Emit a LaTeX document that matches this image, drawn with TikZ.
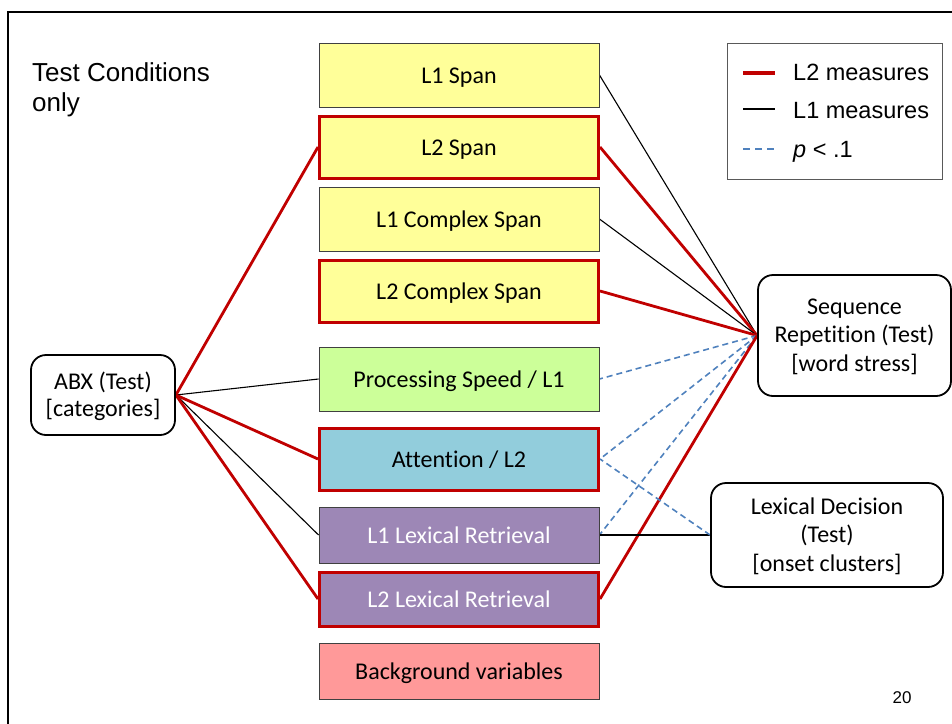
\documentclass[tikz,border=0pt]{standalone}
\usepackage{fontspec}
\setmainfont[Ligatures=NoCommon]{Carlito}
\newfontfamily\arialf{Liberation Sans}
\usetikzlibrary{backgrounds}

\definecolor{spanyellow}{HTML}{FFFF99}
\definecolor{speedgreen}{HTML}{CCFF99}
\definecolor{attnblue}{HTML}{92CDDC}
\definecolor{lexpurple}{HTML}{9D87B6}
\definecolor{bgpink}{HTML}{FF9999}
\definecolor{l2red}{HTML}{C00000}
\definecolor{trendblue}{HTML}{4F81BD}
\definecolor{boxedge}{HTML}{404040}
\definecolor{legendgray}{HTML}{595959}

% struts fixing the height of a first line and the depth of a last line
\newcommand\firstline[1]{\rule{0pt}{#1}}
\newcommand\lastline{\rule[-7pt]{0pt}{7pt}}

\begin{document}
\begin{tikzpicture}[x=1pt,y=-1pt,
  measure/.style={draw=boxedge, line width=0.9pt, minimum width=280pt,
    minimum height=64pt, inner sep=0pt, text height=21pt, text depth=5pt,
    font=\fontsize{24}{28}\selectfont},
  l2box/.style={draw=l2red, line width=3pt, minimum width=279pt, minimum height=62pt},
  lexbox/.style={minimum height=56pt},
  testbox/.style={draw=black, line width=1.8pt, rounded corners=15pt, align=center,
    inner sep=0pt, font=\fontsize{24}{28.5}\selectfont},
  l2link/.style={draw=l2red, line width=2.8pt},
  l1link/.style={draw=black, line width=1.1pt},
  trend/.style={draw=trendblue, line width=1.6pt, dash pattern=on 6pt off 4pt},
  legendtext/.style={anchor=west, inner sep=0pt, font=\arialf\fontsize{23.5}{28}\selectfont},
]
\useasboundingbox (0,0) rectangle (952,723);

% slide frame
\draw[line width=2.3pt] (960,12) -- (8,12) -- (8,730);

% title
\node[anchor=north west, align=left, inner sep=0pt,
  font=\arialf\fontsize{26}{30}\selectfont] (title) at (32,62) {Test Conditions\\only};

% column of measures
\node[measure, fill=spanyellow] (l1span) at (459,75) {L1 Span};
\node[measure, l2box, fill=spanyellow] (l2span) at (459,147) {L2 Span};
\node[measure, fill=spanyellow] (l1cspan) at (459,219) {L1 Complex Span};
\node[measure, l2box, fill=spanyellow] (l2cspan) at (459,291) {L2 Complex Span};
\node[measure, fill=speedgreen] (speed) at (459,379) {Processing Speed / L1};
\node[measure, l2box, fill=attnblue] (attn) at (459,459) {Attention / L2};
\node[measure, lexbox, fill=lexpurple, text=white] (l1lex) at (459,535) {L1 Lexical Retrieval};
\node[measure, l2box, lexbox, minimum height=54pt, fill=lexpurple, text=white] (l2lex) at (459,599) {L2 Lexical Retrieval};
\node[measure, lexbox, fill=bgpink] (bg) at (459,671) {Background variables};

% test tasks
\node[testbox, minimum width=144pt, minimum height=80pt, font=\fontsize{24}{27.5}\selectfont]
  (abx) at (103,395) {\firstline{23pt}ABX (Test)\\{}[categories]\lastline};
\node[testbox, minimum width=193pt, minimum height=121pt]
  (seq) at (854.5,335.5) {\firstline{21pt}Sequence\\Repetition (Test)\\{}[word stress]\lastline};
\node[testbox, minimum width=232pt, minimum height=104pt]
  (lex) at (827,535) {\firstline{22pt}Lexical Decision\\(Test)\\{}[onset clusters]\lastline};

% legend
\node[draw=legendgray, line width=1pt, minimum width=215pt, minimum height=136pt,
  inner sep=0pt] (legend) at (834.5,111) {};
\coordinate (r1) at (743,73);  \coordinate (r2) at (775,73);
\coordinate (b1) at (743,109); \coordinate (b2) at (775,109);
\coordinate (d1) at (743,149); \coordinate (d2) at (777,149);
\draw[draw=l2red, line width=4pt] (r1) -- (r2);
\draw[draw=black, line width=1.5pt] (b1) -- (b2);
\draw[draw=trendblue, line width=2.8pt, dash pattern=on 7pt off 5pt] (d1) -- (d2);
\node[legendtext] (lgred) at (793,72) {L2 measures};
\node[legendtext] (lgblack) at (793,111) {L1 measures};
\node[legendtext] (lgblue) at (793,152) {\textit{p} < .1};

% page number
\node[inner sep=0pt, font=\arialf\fontsize{17}{20}\selectfont] (page) at (902,698) {20};

% connections
\begin{scope}[on background layer]
  \draw[l2link] (abx.east) -- (l2span.west);
  \draw[l1link] (abx.east) -- (speed.west);
  \draw[l2link] (abx.east) -- (attn.west);
  \draw[l1link] (abx.east) -- (l1lex.west);
  \draw[l2link] (abx.east) -- (l2lex.west);

  \draw[l1link] (seq.west) -- (l1span.east);
  \draw[l2link] (seq.west) -- (l2span.east);
  \draw[l1link] (seq.west) -- (l1cspan.east);
  \draw[l2link] (seq.west) -- (l2cspan.east);
  \draw[trend] (seq.west) -- (speed.east);
  \draw[trend] (seq.west) -- (attn.east);
  \draw[trend] (seq.west) -- (l1lex.east);
  \draw[l2link] (seq.west) -- (l2lex.east);

  \draw[l1link] (lex.west) -- (l1lex.east);
  \draw[trend] (lex.west) -- (attn.east);
\end{scope}
\end{tikzpicture}
\end{document}
